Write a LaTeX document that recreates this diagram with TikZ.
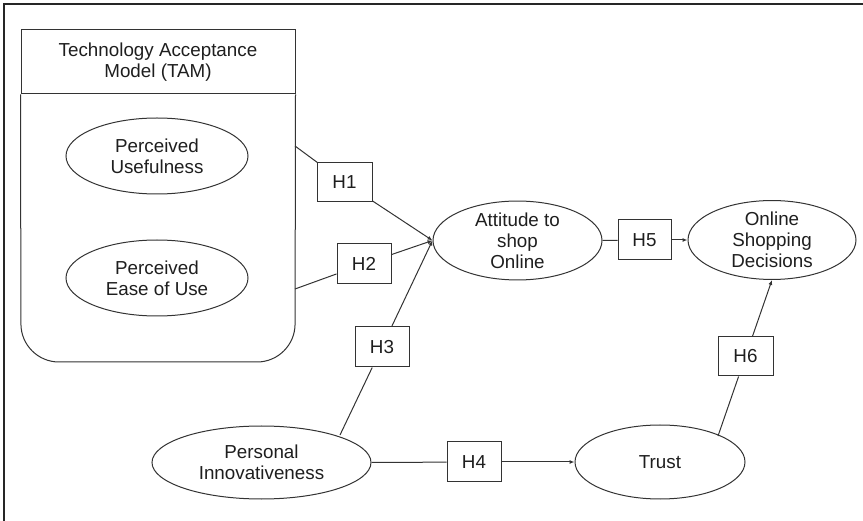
\documentclass[tikz,border=0pt]{standalone}
\usepackage{fontspec}
\setmainfont{Liberation Sans}
\usetikzlibrary{shapes.geometric,arrows.meta}
\definecolor{ln}{HTML}{333333}
\definecolor{tx}{HTML}{1E1E1E}
\begin{document}
\begin{tikzpicture}[x=1pt,y=-1pt,
  every node/.style={font=\fontsize{18.8}{21}\selectfont, text=tx, align=center},
  oval/.style={draw=ln, line width=1pt, ellipse, inner sep=0pt},
  hbox/.style={draw=ln, line width=1pt, rectangle, inner sep=0pt, minimum width=54pt, minimum height=40pt},
  conn/.style={draw=ln, line width=1pt},
  arr/.style={conn, -{Latex[length=5pt,width=4pt]}}]
\useasboundingbox (0,0) rectangle (863,521);
% outer frame (top and left edges)
\draw[line width=1.6pt, color=black!85] (4,521) -- (4,4) -- (863,4);
% TAM container
\node[draw=ln, line width=1pt, minimum width=274pt, minimum height=64pt, inner sep=0pt] (tam) at (158,62) {Technology Acceptance\\Model (TAM)};
\draw[ln, line width=1pt, rounded corners=38pt] (tam.south west) -- (21,362) -- (295,362) -- (tam.south east);
% ellipses
\node[oval, minimum width=182pt, minimum height=76pt] (pu) at (157,156) {Perceived\\Usefulness};
\node[oval, minimum width=182pt, minimum height=76pt] (peu) at (157,278) {Perceived\\Ease of Use};
\node[oval, minimum width=169pt, minimum height=76pt] (att) at (517.5,240.5) {Attitude to\\shop\\Online};
\node[oval, minimum width=168pt, minimum height=76pt] (osd) at (772,240) {Online\\Shopping\\Decisions};
\node[oval, minimum width=219pt, minimum height=73pt] (pi) at (261.5,462.5) {Personal\\Innovativeness};
\node[oval, minimum width=170pt, minimum height=74pt] (trust) at (660,462) {Trust};
% hypothesis boxes
\node[hbox, minimum width=55pt, minimum height=39pt] (h1) at (344.5,182.5) {H1};
\node[hbox] (h2) at (364,264) {H2};
\node[hbox] (h3) at (382,347) {H3};
\node[hbox] (h4) at (474,462) {H4};
\node[hbox, minimum width=53pt] (h5) at (644.5,240) {H5};
\node[hbox, minimum width=55pt, minimum height=39pt] (h6) at (745.5,356.5) {H6};
% connector end points
\coordinate (puout) at (295,146);
\coordinate (peuout) at (295,289);
\coordinate (piout) at (340,435);
\coordinate (trout) at (718,436);
% connectors
\draw[conn] (puout) -- (h1);
\draw[arr] (h1) -- (att.west);
\draw[conn] (peuout) -- (h2);
\draw[arr] (h2) -- (att.west);
\draw[conn] (piout) -- (h3);
\draw[arr] (h3) -- (att.west);
\draw[conn] (att.east) -- (h5);
\draw[arr] (h5) -- (osd.west);
\draw[conn] (pi.east) -- (h4);
\draw[arr] (h4) -- (trust.west);
\draw[conn] (trout) -- (h6);
\draw[arr] (h6) -- (osd.south);
\end{tikzpicture}
\end{document}
